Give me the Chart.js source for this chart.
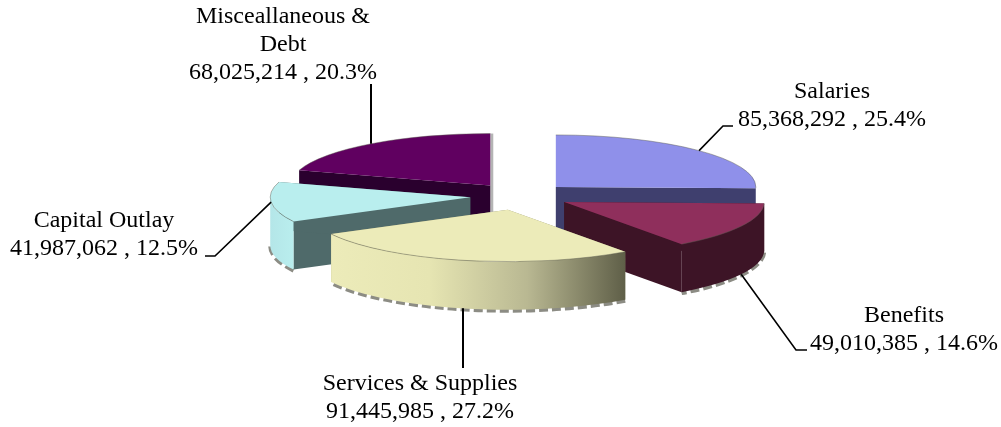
<!DOCTYPE html>
<html>
<head>
<meta charset="utf-8">
<title>Expenditures</title>
<script src="https://cdn.jsdelivr.net/npm/chart.js@4"></script>
<style>
    html, body { margin: 0; padding: 0; background: #fff; }
    canvas { display: block; }
</style>
</head>
<body>
<canvas id="pie-chart" width="1001" height="427"></canvas>
<script>
// ===============================
// DATA
// ===============================
const categories = ["Salaries", "Benefits", "Services & Supplies", "Capital Outlay", "Misceallaneous & Debt"];
const amounts = [85368292, 49010385, 91445985, 41987062, 68025214];

// ===============================
// STYLE
// ===============================
const topColors = ["#8f90ea", "#8f2f5c", "#ecebb9", "#b9eeee", "#600060"];
const cutColors = ["#3f3f6e", "#3d1426", "#8a8a68", "#4f6a6a", "#2a002e"];
const wallStops = [
    ["#3f3f6e", "#3f3f6e"],
    ["#3d1426", "#3d1426"],
    ["#ecebb9", "#e6e5b2", "#b9b892", "#5f5f48"],
    ["#b4e6e8", "#b9eeee"],
    ["#2a002e", "#2a002e"]
];
const labelLines = [
    ["Salaries"],
    ["Benefits"],
    ["Services & Supplies"],
    ["Capital Outlay"],
    ["Misceallaneous &", "Debt"]
];
// label centre x + first baseline y, and the bends of each leader line
// (a null x keeps the line vertical)
const labelAnchors = [[832, 98], [904, 322], [420, 390], [104, 227], [283, 23]];
const leaderBends = [
    [[723, 126], [733, 126]],
    [[796, 350], [807, 350]],
    [[null, 368]],
    [[215, 256], [205, 256]],
    [[null, 84]]
];
const explode = [50, 50, 54, 50, 50];
const drawOrder = [4, 3, 0, 1, 2]; // back slices first
const SHADOWED_EDGE = 4; // misc slice has a grey strip down its right side

const TILT = 0.26;
const WALL = 48;
const LINE_HEIGHT = 28;

// ===============================
// 3D PIE PLUGIN
// ===============================
function sliceGeometry(el, i) {
    const mid = (el.startAngle + el.endAngle) / 2;
    return {
        cx: el.x + Math.cos(mid) * explode[i],
        cy: el.y + Math.sin(mid) * explode[i] * TILT,
        rx: el.outerRadius,
        ry: el.outerRadius * TILT,
        start: el.startAngle,
        end: el.endAngle,
        mid
    };
}

function edgePoint(g, angle) {
    return [g.cx + Math.cos(angle) * g.rx, g.cy + Math.sin(angle) * g.ry];
}

function fillCutWall(ctx, g, angle, color) {
    const p = edgePoint(g, angle);
    ctx.fillStyle = color;
    ctx.beginPath();
    ctx.moveTo(g.cx, g.cy);
    ctx.lineTo(p[0], p[1]);
    ctx.lineTo(p[0], p[1] + WALL);
    ctx.lineTo(g.cx, g.cy + WALL);
    ctx.closePath();
    ctx.fill();
}

function drawSlice(ctx, el, i) {
    const g = sliceGeometry(el, i);
    const a = Math.max(g.start, 0);
    const b = Math.min(g.end, Math.PI);

    // soft grey shadow along the bottom rim
    if (b > a) {
        ctx.save();
        ctx.strokeStyle = "#8c8c84";
        ctx.lineWidth = 4;
        ctx.setLineDash([9, 4]);
        ctx.beginPath();
        ctx.ellipse(g.cx, g.cy + WALL + 1, g.rx, g.ry, 0, a, b);
        ctx.stroke();
        ctx.restore();
    }

    if (i === SHADOWED_EDGE) {
        const top = edgePoint(g, g.end);
        ctx.fillStyle = "#b4b4b4";
        ctx.fillRect(g.cx, top[1], 3, g.cy + WALL - top[1]);
    }

    fillCutWall(ctx, g, g.start, cutColors[i]);
    fillCutWall(ctx, g, g.end, cutColors[i]);

    if (b > a) {
        const x0 = Math.min(edgePoint(g, a)[0], edgePoint(g, b)[0]);
        const x1 = Math.max(edgePoint(g, a)[0], edgePoint(g, b)[0]);
        const grad = ctx.createLinearGradient(x0, 0, x1, 0);
        wallStops[i].forEach((c, n) => grad.addColorStop(n / (wallStops[i].length - 1), c));
        ctx.fillStyle = grad;
        ctx.beginPath();
        ctx.ellipse(g.cx, g.cy, g.rx, g.ry, 0, a, b);
        ctx.ellipse(g.cx, g.cy + WALL, g.rx, g.ry, 0, b, a, true);
        ctx.closePath();
        ctx.fill();
    }

    // top face: the library's own arc element, squashed
    ctx.save();
    ctx.translate(g.cx, g.cy);
    ctx.scale(1, TILT);
    ctx.translate(-el.x, -el.y);
    el.draw(ctx);
    ctx.restore();

    ctx.strokeStyle = "rgba(90,90,80,0.45)";
    ctx.lineWidth = 1;
    ctx.beginPath();
    ctx.ellipse(g.cx, g.cy, g.rx, g.ry, 0, g.start, g.end);
    ctx.stroke();
}

function leaderStart(el, i) {
    const g = sliceGeometry(el, i);
    const p = edgePoint(g, g.mid);
    return Math.sin(g.mid) > 0.3 ? [p[0], p[1] + WALL] : p;
}

const pie3d = {
    id: "pie3d",
    beforeDatasetsDraw(chart) {
        const ctx = chart.ctx;
        const arcs = chart.getDatasetMeta(0).data;
        drawOrder.forEach(i => drawSlice(ctx, arcs[i], i));
        return false;
    },
    afterDraw(chart) {
        const ctx = chart.ctx;
        const arcs = chart.getDatasetMeta(0).data;
        const total = amounts.reduce((s, v) => s + v, 0);

        ctx.save();
        ctx.strokeStyle = "#000";
        ctx.fillStyle = "#000";
        ctx.font = '24px "Liberation Serif"';
        ctx.textAlign = "center";
        ctx.textBaseline = "alphabetic";

        arcs.forEach((el, i) => {
            const start = leaderStart(el, i);
            const vertical = leaderBends[i][0][0] === null;
            const sx = vertical ? Math.round(start[0]) : start[0];
            ctx.lineWidth = vertical ? 2 : 1.6;
            ctx.beginPath();
            ctx.moveTo(sx, start[1]);
            leaderBends[i].forEach(p => ctx.lineTo(p[0] === null ? sx : p[0], p[1]));
            ctx.stroke();

            const pct = (amounts[i] / total * 100).toFixed(1);
            const lines = labelLines[i].concat(`${amounts[i].toLocaleString("en-US")} , ${pct}%`);
            lines.forEach((line, n) => {
                ctx.fillText(line, labelAnchors[i][0], labelAnchors[i][1] + n * LINE_HEIGHT);
            });
        });
        ctx.restore();
    }
};

// ===============================
// CHART
// ===============================
new Chart(document.getElementById("pie-chart"), {
    type: "pie",
    data: {
        labels: categories,
        datasets: [{
            data: amounts,
            backgroundColor: topColors,
            borderWidth: 0
        }]
    },
    options: {
        responsive: false,
        animation: false,
        radius: 200,
        layout: { padding: { left: 39, bottom: 35 } },
        plugins: {
            legend: { display: false },
            tooltip: { enabled: false }
        }
    },
    plugins: [pie3d]
});
</script>
</body>
</html>
